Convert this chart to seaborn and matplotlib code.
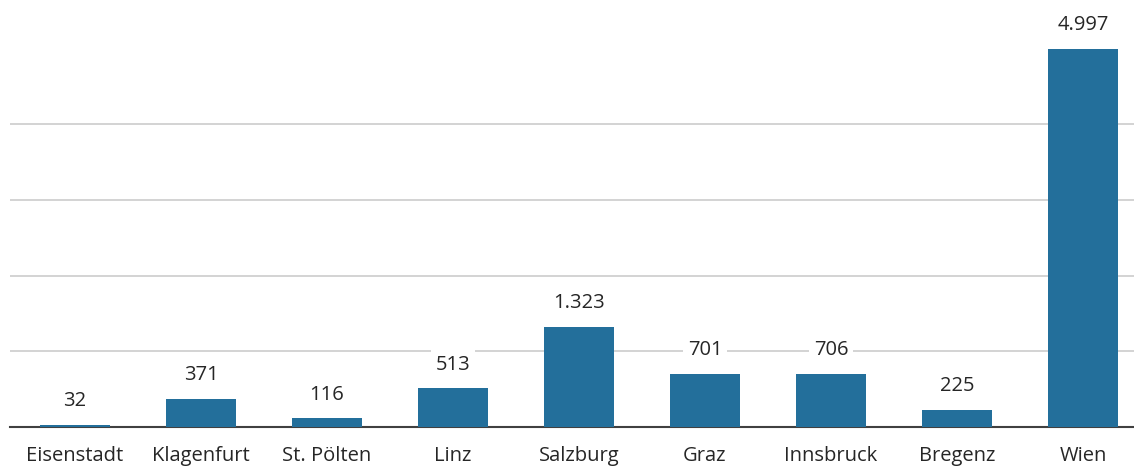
import matplotlib
matplotlib.use("Agg")
import matplotlib.pyplot as plt
import seaborn as sns
import pandas as pd

# Daten
staedte = ["Eisenstadt", "Klagenfurt", "St. Pölten", "Linz", "Salzburg",
           "Graz", "Innsbruck", "Bregenz", "Wien"]
werte = [32, 371, 116, 513, 1323, 701, 706, 225, 4997]
labels = ["32", "371", "116", "513", "1.323", "701", "706", "225", "4.997"]

df = pd.DataFrame({"stadt": staedte, "wert": werte})

sns.set_theme(style="white")
plt.rcParams['font.family'] = ['Open Sans', 'DejaVu Sans']

fig = plt.figure(figsize=(11.34, 4.66), dpi=100)
ax = fig.add_axes([10 / 1134, 39 / 466, 1124 / 1134, 427 / 466])

sns.barplot(data=df, x="stadt", y="wert", color="#236f9b", width=0.556,
            saturation=1, linewidth=0, ax=ax, zorder=3)

ax.set_ylim(0, 5645)
ax.set_xlim((10 - 75) / 126, (1134 - 75) / 126)
ax.set_yticks([1000, 2000, 3000, 4000])
ax.yaxis.grid(True, color="#d0d0d0", linewidth=1.3, zorder=0)
ax.set_axisbelow(True)
ax.tick_params(axis="y", left=False, labelleft=False)
ax.tick_params(axis="x", bottom=False, labelsize=14.5, labelcolor="#262626", pad=8)
ax.set_xlabel("")
ax.set_ylabel("")
for s in ["top", "right", "left"]:
    ax.spines[s].set_visible(False)
ax.spines["bottom"].set_color("#404040")
ax.spines["bottom"].set_linewidth(1.5)
ax.spines["bottom"].set_zorder(2)

for i, (w, lab) in enumerate(zip(werte, labels)):
    ax.annotate(lab, (i, w), xytext=(0, 17), textcoords="offset points",
                ha="center", va="center", fontsize=14.5, color="#262626",
                bbox=dict(boxstyle="square,pad=0.25", fc="white", ec="none"),
                zorder=4)

fig.savefig("out.png", dpi=100)
